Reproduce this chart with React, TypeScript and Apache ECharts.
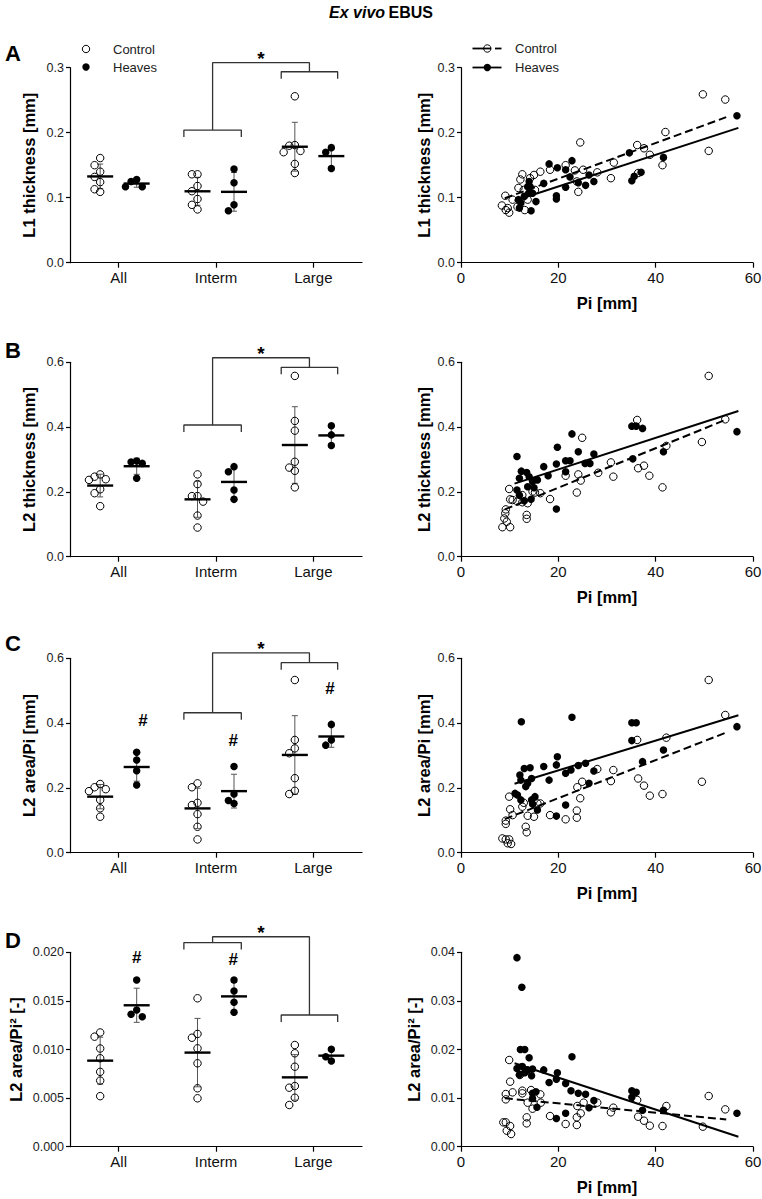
import React, { useEffect, useRef } from "react";
import * as echarts from "echarts";

const FONT = '"Liberation Sans", Arial, Helvetica, sans-serif';

const CATEGORIES = ["All", "Interm", "Large"];

// ---------- Left panels: values per category [All, Interm, Large] ----------
const L1_CONTROL = [
  [0.161, 0.15, 0.14, 0.132, 0.124, 0.113, 0.109],
  [0.136, 0.136, 0.118, 0.11, 0.098, 0.089, 0.082],
  [0.256, 0.181, 0.18, 0.172, 0.17, 0.152, 0.138],
];
const L1_HEAVES = [
  [0.128, 0.125, 0.117, 0.117],
  [0.144, 0.123, 0.089, 0.08],
  [0.177, 0.17, 0.145],
];
const L2_CONTROL = [
  [0.254, 0.247, 0.239, 0.237, 0.208, 0.196, 0.156],
  [0.254, 0.224, 0.187, 0.187, 0.17, 0.127, 0.09],
  [0.558, 0.419, 0.389, 0.293, 0.275, 0.265, 0.214],
];
const L2_HEAVES = [
  [0.295, 0.292, 0.288, 0.242],
  [0.278, 0.262, 0.206, 0.177],
  [0.404, 0.376, 0.343],
];
const L2PI_CONTROL = [
  [0.212, 0.202, 0.196, 0.19, 0.163, 0.137, 0.111],
  [0.214, 0.202, 0.154, 0.147, 0.119, 0.08, 0.041],
  [0.533, 0.348, 0.322, 0.307, 0.23, 0.191, 0.181],
];
const L2PI_HEAVES = [
  [0.31, 0.286, 0.253, 0.209],
  [0.266, 0.181, 0.161, 0.152],
  [0.396, 0.348, 0.332],
];
const L2PI2_CONTROL = [
  [0.01175, 0.01132, 0.0101, 0.0091, 0.0077, 0.0068, 0.0052],
  [0.01527, 0.0116, 0.01121, 0.01012, 0.00858, 0.00601, 0.00498],
  [0.01046, 0.00961, 0.00823, 0.00624, 0.00607, 0.00504, 0.00429],
];
const L2PI2_HEAVES = [
  [0.01715, 0.01406, 0.01362, 0.01337],
  [0.01715, 0.01602, 0.01486, 0.01383],
  [0.01002, 0.00926, 0.00882],
];

// ---------- Right panels: [Pi (mm), value] ----------
const L1_SCATTER_CONTROL = [
  [49.7, 0.259], [54.3, 0.251], [42.0, 0.201], [50.9, 0.172], [24.5, 0.185], [36.2, 0.181],
  [37.6, 0.176], [38.8, 0.166], [41.4, 0.15], [31.4, 0.154], [30.8, 0.13], [28.0, 0.139],
  [25.1, 0.143], [23.4, 0.142], [21.5, 0.15], [23.8, 0.125], [24.1, 0.109], [18.3, 0.143],
  [16.3, 0.14], [15.0, 0.135], [14.2, 0.13], [12.6, 0.136], [12.2, 0.128], [11.8, 0.115],
  [12.9, 0.112], [10.6, 0.097], [9.1, 0.103], [8.4, 0.088], [9.6, 0.084], [9.9, 0.077],
  [9.2, 0.081], [13.1, 0.081], [13.7, 0.097], [36.4, 0.138], [11.6, 0.086], [15.2, 0.112],
];
const L1_SCATTER_HEAVES = [
  [56.7, 0.226], [41.6, 0.162], [34.6, 0.169], [22.8, 0.157], [18.1, 0.152], [19.8, 0.146],
  [21.5, 0.143], [22.4, 0.132], [26.3, 0.135], [27.3, 0.125], [25.6, 0.119], [21.5, 0.116],
  [24.1, 0.123], [19.6, 0.103], [19.6, 0.098], [17.0, 0.122], [35.1, 0.126], [35.6, 0.133],
  [37.0, 0.139], [14.0, 0.125], [14.2, 0.117], [13.9, 0.107], [13.0, 0.102], [11.8, 0.097],
  [12.0, 0.084], [12.3, 0.092], [15.4, 0.094], [14.4, 0.08], [14.7, 0.107], [13.7, 0.117],
];
const L2_SCATTER_CONTROL = [
  [50.9, 0.558], [54.3, 0.424], [36.2, 0.422], [49.5, 0.354], [42.2, 0.342], [24.9, 0.367],
  [37.6, 0.281], [36.4, 0.273], [38.7, 0.25], [41.4, 0.214], [30.8, 0.291], [31.3, 0.247],
  [28.2, 0.259], [24.1, 0.254], [24.6, 0.235], [21.5, 0.25], [23.8, 0.198], [18.3, 0.178],
  [16.3, 0.196], [14.7, 0.201], [13.7, 0.165], [13.5, 0.129], [13.5, 0.117], [12.6, 0.19],
  [12.6, 0.168], [9.9, 0.209], [10.1, 0.177], [10.6, 0.175], [9.2, 0.146], [9.1, 0.134],
  [8.9, 0.118], [9.4, 0.108], [10.1, 0.091], [8.5, 0.091], [11.6, 0.17], [15.2, 0.198],
];
const L2_SCATTER_HEAVES = [
  [56.7, 0.386], [35.1, 0.403], [36.0, 0.403], [37.3, 0.396], [41.6, 0.324], [35.3, 0.302],
  [22.8, 0.379], [19.8, 0.338], [24.1, 0.324], [27.3, 0.317], [22.4, 0.296], [21.5, 0.296],
  [19.6, 0.286], [25.5, 0.288], [26.5, 0.288], [21.5, 0.262], [17.9, 0.25], [17.0, 0.278],
  [11.5, 0.309], [12.4, 0.264], [13.5, 0.26], [12.0, 0.242], [14.0, 0.247], [14.7, 0.232],
  [15.7, 0.237], [15.0, 0.213], [13.7, 0.216], [11.5, 0.206], [12.0, 0.19], [13.0, 0.173],
  [14.4, 0.177], [19.6, 0.147],
];
const L2PI_SCATTER_CONTROL = [
  [50.9, 0.533], [54.3, 0.425], [42.2, 0.355], [36.2, 0.348], [49.5, 0.219], [36.4, 0.229],
  [37.6, 0.207], [38.8, 0.176], [41.4, 0.181], [28.0, 0.258], [31.3, 0.255], [30.8, 0.221],
  [24.9, 0.219], [23.9, 0.202], [24.5, 0.168], [23.8, 0.13], [23.8, 0.108], [21.5, 0.103],
  [18.3, 0.116], [16.3, 0.152], [15.0, 0.111], [13.7, 0.114], [13.3, 0.08], [13.5, 0.063],
  [12.6, 0.142], [12.9, 0.154], [9.9, 0.173], [10.1, 0.134], [10.6, 0.116], [9.2, 0.099],
  [9.2, 0.089], [8.5, 0.044], [9.2, 0.041], [9.9, 0.041], [9.6, 0.029], [10.3, 0.027],
  [15.7, 0.152],
];
const L2PI_SCATTER_HEAVES = [
  [56.7, 0.389], [35.1, 0.401], [36.0, 0.401], [35.1, 0.346], [37.3, 0.281], [41.6, 0.317],
  [22.8, 0.418], [12.4, 0.404], [19.8, 0.296], [19.6, 0.271], [17.0, 0.266], [18.1, 0.224],
  [21.5, 0.245], [22.6, 0.255], [24.1, 0.269], [25.6, 0.276], [26.3, 0.214], [27.3, 0.252],
  [21.5, 0.147], [19.6, 0.113], [12.1, 0.24], [13.0, 0.26], [14.2, 0.262], [12.3, 0.224],
  [13.7, 0.214], [14.5, 0.229], [13.3, 0.204], [11.1, 0.183], [11.6, 0.178], [12.3, 0.163],
  [14.5, 0.163], [15.2, 0.173], [14.7, 0.15], [15.7, 0.132],
];
const L2PI2_SCATTER_CONTROL = [
  [50.9, 0.01043], [54.3, 0.00768], [49.7, 0.00412], [42.2, 0.00837], [41.4, 0.00425],
  [36.2, 0.00961], [36.4, 0.00617], [37.6, 0.00535], [38.8, 0.00432], [31.3, 0.00803],
  [30.8, 0.00707], [28.0, 0.00906], [25.2, 0.00906], [24.6, 0.00686], [23.9, 0.00837],
  [23.8, 0.00604], [23.8, 0.00446], [21.5, 0.00467], [18.3, 0.00631], [16.4, 0.00906],
  [16.3, 0.01077], [14.7, 0.00782], [14.4, 0.01166], [13.7, 0.00906], [13.5, 0.00604],
  [13.5, 0.0048], [12.6, 0.01153], [12.6, 0.01098], [12.1, 0.01475], [12.3, 0.01626],
  [9.9, 0.01784], [10.1, 0.01338], [10.6, 0.01118], [9.2, 0.01084], [9.2, 0.00974],
  [8.7, 0.00501], [9.2, 0.00501], [9.4, 0.00329], [10.1, 0.00425], [10.3, 0.00261],
];
const L2PI2_SCATTER_HEAVES = [
  [11.5, 0.0389], [12.5, 0.0328], [12.2, 0.02], [13.1, 0.02], [14.0, 0.0183], [22.8, 0.0185],
  [11.5, 0.0161], [12.6, 0.0165], [13.7, 0.0158], [14.7, 0.016], [12.0, 0.0148], [13.1, 0.0152],
  [14.5, 0.0146], [17.0, 0.0158], [19.8, 0.0152], [19.6, 0.0139], [18.1, 0.0132], [21.5, 0.013],
  [22.6, 0.0115], [24.1, 0.011], [25.6, 0.0108], [27.3, 0.0095], [26.3, 0.008], [21.5, 0.0069],
  [19.6, 0.0058], [35.1, 0.0115], [36.0, 0.0112], [35.1, 0.0102], [37.3, 0.0075], [41.6, 0.0075],
  [56.7, 0.0069], [14.7, 0.011], [15.4, 0.0113], [14.7, 0.0099], [15.6, 0.0081],
];

// Linear fits: [slope, intercept] per panel
const FIT_CONTROL = [[0.002744, 0.0744], [0.00609, 0.0913], [0.00587, 0.051], [-0.0000958, 0.01083]];
const FIT_HEAVES = [[0.00244, 0.0684], [0.00487, 0.172], [0.0046, 0.162], [-0.000329, 0.0208]];
const FIT_RANGE_CONTROL = [9, 54.5];
const FIT_RANGE_HEAVES = [11, 57];

// Significance annotation levels per panel: [Interm bracket, Large bracket, top connector]
const SIG_LEVELS = [
  [0.204, 0.2938, 0.3077],
  [0.4065, 0.5845, 0.614],
  [0.432, 0.5864, 0.617],
  [0.021, 0.01355, 0.0216],
];
const BRACKET_SPANS = [[1.17, 1.76], [2.17, 2.75]];
const HASH_MARKS = [
  [],
  [],
  [[0.75, 0.41], [1.678, 0.35], [2.671, 0.51]],
  [[0.685, 0.0196], [1.678, 0.0194]],
];

const Y_NAMES = ["L1 thickness [mm]", "L2 thickness [mm]", "L2 area/Pi [mm]", "L2 area/Pi² [-]"];
const LETTERS = ["A", "B", "C", "D"];
const Y_MAX_LEFT = [0.3, 0.6, 0.6, 0.02];
const Y_STEP_LEFT = [0.1, 0.2, 0.2, 0.005];
const Y_DEC_LEFT = [1, 1, 1, 3];
const Y_MAX_RIGHT = [0.3, 0.6, 0.6, 0.04];
const Y_STEP_RIGHT = [0.1, 0.2, 0.2, 0.01];
const Y_DEC_RIGHT = [1, 1, 1, 2];

const LEFT_DATA = [
  [L1_CONTROL, L1_HEAVES],
  [L2_CONTROL, L2_HEAVES],
  [L2PI_CONTROL, L2PI_HEAVES],
  [L2PI2_CONTROL, L2PI2_HEAVES],
];
const RIGHT_DATA = [
  [L1_SCATTER_CONTROL, L1_SCATTER_HEAVES],
  [L2_SCATTER_CONTROL, L2_SCATTER_HEAVES],
  [L2PI_SCATTER_CONTROL, L2PI_SCATTER_HEAVES],
  [L2PI2_SCATTER_CONTROL, L2PI2_SCATTER_HEAVES],
];

// ---------- Layout ----------
const PLOT_LEFT = [70, 461];
const PLOT_W = 292;
const ROW_TOP = [67.7, 362.3, 658.3, 952.3];
const ROW_H = [195, 194.4, 194.4, 194.4];
const NAME_GAP_LEFT = [33, 33, 33, 46];
const NAME_GAP_RIGHT = [29, 29, 29, 39];
const LETTER_Y = [53, 350, 643, 940];
const CONTROL_OFFSET = -0.19;
const HEAVES_OFFSET = 0.185;
const LANE_PX = 5.6;
const SAME_LANE_DY = 7.5;
const SYMBOL = 7.5;

function mean(a: number[]) {
  return a.reduce((s, v) => s + v, 0) / a.length;
}
function sd(a: number[]) {
  const m = mean(a);
  return Math.sqrt(a.reduce((s, v) => s + (v - m) * (v - m), 0) / (a.length - 1));
}

function swarm(values: number[], center: number, yMax: number, hPx: number) {
  const unitPx = PLOT_W / 3;
  const placed: { lane: number; y: number }[] = [];
  const out: number[][] = [];
  const order = values.map((_, i) => i).sort((a, b) => values[b] - values[a]);
  for (const i of order) {
    const py = (values[i] / yMax) * hPx;
    let chosen = 0;
    for (const k of [0, -1, 1, -2, 2, -3, 3]) {
      if (placed.every((p) => p.lane !== k || Math.abs(p.y - py) >= SAME_LANE_DY)) {
        chosen = k;
        break;
      }
    }
    placed.push({ lane: chosen, y: py });
    out.push([center + (chosen * LANE_PX) / unitPx, values[i]]);
  }
  return out;
}

const axisLineStyle = { show: true, lineStyle: { color: "#000", width: 1.2 } };
const axisTickStyle = { show: true, length: 4, lineStyle: { color: "#000", width: 1.2 } };
const nameStyle = { fontFamily: FONT, fontWeight: "bold", fontSize: 16.5, color: "#000" };
const OPEN_STYLE = { color: "rgba(255,255,255,0)", borderColor: "#000", borderWidth: 1, opacity: 1 };
const FILLED_STYLE = { color: "#000", opacity: 1 };

function buildOption() {
  const grid: any[] = [];
  const xAxis: any[] = [];
  const yAxis: any[] = [];
  const series: any[] = [];
  const graphic: any[] = [];

  for (let r = 0; r < 4; r++) {
    const top = ROW_TOP[r];
    const h = ROW_H[r];
    const gL = grid.length;
    grid.push({ left: PLOT_LEFT[0], top, width: PLOT_W, height: h, containLabel: false, outerBoundsMode: "none" });
    const gR = grid.length;
    grid.push({ left: PLOT_LEFT[1], top, width: PLOT_W, height: h, containLabel: false, outerBoundsMode: "none" });

    xAxis.push({
      type: "category",
      gridIndex: gL,
      position: "bottom",
      data: CATEGORIES,
      boundaryGap: true,
      axisLine: axisLineStyle,
      axisTick: { ...axisTickStyle, alignWithLabel: true, length: 5 },
      axisLabel: { fontFamily: FONT, fontSize: 15, color: "#111", margin: 7 },
      splitLine: { show: false },
    });
    const xVal = xAxis.length;
    xAxis.push({ type: "value", gridIndex: gL, min: 0, max: 3, show: false, position: "top" });
    const xR = xAxis.length;
    xAxis.push({
      type: "value",
      gridIndex: gR,
      position: "bottom",
      min: 0,
      max: 60,
      interval: 20,
      name: "Pi [mm]",
      nameLocation: "middle",
      nameGap: 32,
      nameTextStyle: nameStyle,
      axisLine: axisLineStyle,
      axisTick: { ...axisTickStyle, length: 5 },
      axisLabel: { fontFamily: FONT, fontSize: 15, color: "#111", margin: 7 },
      splitLine: { show: false },
    });

    const yL = yAxis.length;
    yAxis.push({
      type: "value",
      gridIndex: gL,
      min: 0,
      max: Y_MAX_LEFT[r],
      interval: Y_STEP_LEFT[r],
      name: Y_NAMES[r],
      nameLocation: "middle",
      nameGap: NAME_GAP_LEFT[r],
      nameTextStyle: nameStyle,
      axisLine: axisLineStyle,
      axisTick: axisTickStyle,
      axisLabel: {
        fontFamily: FONT,
        fontSize: 12.5,
        color: "#222",
        margin: 6,
        formatter: (v: number) => v.toFixed(Y_DEC_LEFT[r]),
      },
      splitLine: { show: false },
    });
    const yR = yAxis.length;
    yAxis.push({
      type: "value",
      gridIndex: gR,
      min: 0,
      max: Y_MAX_RIGHT[r],
      interval: Y_STEP_RIGHT[r],
      name: Y_NAMES[r],
      nameLocation: "middle",
      nameGap: NAME_GAP_RIGHT[r],
      nameTextStyle: nameStyle,
      axisLine: axisLineStyle,
      axisTick: axisTickStyle,
      axisLabel: {
        fontFamily: FONT,
        fontSize: 12.5,
        color: "#222",
        margin: 6,
        formatter: (v: number) => v.toFixed(Y_DEC_RIGHT[r]),
      },
      splitLine: { show: false },
    });

    // ----- left: dot plots -----
    const [ctrl, hv] = LEFT_DATA[r];
    const yMax = Y_MAX_LEFT[r];
    const stats: number[][] = [];
    const ctrlPts: number[][] = [];
    const hvPts: number[][] = [];
    for (let c = 0; c < 3; c++) {
      const cc = c + 0.5 + CONTROL_OFFSET;
      const hc = c + 0.5 + HEAVES_OFFSET;
      stats.push([cc, mean(ctrl[c]), sd(ctrl[c])]);
      stats.push([hc, mean(hv[c]), sd(hv[c])]);
      ctrlPts.push(...swarm(ctrl[c], cc, yMax, h));
      hvPts.push(...swarm(hv[c], hc, yMax, h));
    }
    series.push({
      type: "custom",
      xAxisIndex: xVal,
      yAxisIndex: yL,
      silent: true,
      z: 2,
      data: stats,
      renderItem: (_p: any, api: any) => {
        const x = api.value(0);
        const m = api.value(1);
        const s = api.value(2);
        const c = api.coord([x, m]);
        const t = api.coord([x, m + s]);
        const b = api.coord([x, m - s]);
        const thin = { stroke: "#555", lineWidth: 1 };
        return {
          type: "group",
          children: [
            { type: "line", shape: { x1: c[0], y1: t[1], x2: c[0], y2: b[1] }, style: thin },
            { type: "line", shape: { x1: c[0] - 3, y1: t[1], x2: c[0] + 3, y2: t[1] }, style: thin },
            { type: "line", shape: { x1: c[0] - 3, y1: b[1], x2: c[0] + 3, y2: b[1] }, style: thin },
            { type: "line", shape: { x1: c[0] - 13, y1: c[1], x2: c[0] + 13, y2: c[1] }, style: { stroke: "#000", lineWidth: 2.4 } },
          ],
        };
      },
    });
    series.push({
      type: "scatter",
      name: "Control",
      xAxisIndex: xVal,
      yAxisIndex: yL,
      silent: true,
      z: 3,
      symbol: "circle",
      symbolSize: SYMBOL,
      itemStyle: OPEN_STYLE,
      data: ctrlPts,
    });
    series.push({
      type: "scatter",
      name: "Heaves",
      xAxisIndex: xVal,
      yAxisIndex: yL,
      silent: true,
      z: 3,
      symbol: "circle",
      symbolSize: SYMBOL,
      itemStyle: FILLED_STYLE,
      data: hvPts,
    });

    // significance brackets
    const leg = (yMax * 7) / h;
    const [lo1, lo2, topLvl] = SIG_LEVELS[r];
    const [b1, b2] = BRACKET_SPANS;
    const m1 = (b1[0] + b1[1]) / 2;
    const m2 = (b2[0] + b2[1]) / 2;
    const polylines = [
      [[b1[0], lo1 - leg], [b1[0], lo1], [b1[1], lo1], [b1[1], lo1 - leg]],
      [[b2[0], lo2 - leg], [b2[0], lo2], [b2[1], lo2], [b2[1], lo2 - leg]],
      [[m1, lo1], [m1, topLvl], [m2, topLvl], [m2, lo2]],
    ];
    polylines.forEach((pl) =>
      series.push({
        type: "line",
        xAxisIndex: xVal,
        yAxisIndex: yL,
        data: pl,
        symbol: "none",
        clip: false,
        silent: true,
        z: 2,
        lineStyle: { color: "#333", width: 1.3 },
      })
    );
    series.push({
      type: "custom",
      xAxisIndex: xVal,
      yAxisIndex: yL,
      silent: true,
      z: 4,
      data: [[(m1 + m2) / 2, topLvl]],
      renderItem: (_p: any, api: any) => {
        const c = api.coord([api.value(0), api.value(1)]);
        return {
          type: "text",
          x: c[0],
          y: c[1] - 4,
          style: {
            text: "*",
            font: `bold 19px ${FONT}`,
            fill: "#000",
            align: "center",
            verticalAlign: "middle",
            textAlign: "center",
            textVerticalAlign: "middle",
          },
        };
      },
    });
    if (HASH_MARKS[r].length) {
      series.push({
        type: "custom",
        xAxisIndex: xVal,
        yAxisIndex: yL,
        silent: true,
        z: 4,
        data: HASH_MARKS[r],
        renderItem: (_p: any, api: any) => {
          const c = api.coord([api.value(0), api.value(1)]);
          return {
            type: "text",
            x: c[0],
            y: c[1] + 1,
            style: {
              text: "#",
              font: `bold 17px ${FONT}`,
              fill: "#000",
              align: "center",
              verticalAlign: "middle",
              textAlign: "center",
              textVerticalAlign: "middle",
            },
          };
        },
      });
    }

    // ----- right: scatter with regression lines -----
    const [sc, sh] = RIGHT_DATA[r];
    series.push({
      type: "scatter",
      name: "Control",
      xAxisIndex: xR,
      yAxisIndex: yR,
      silent: true,
      z: 3,
      symbol: "circle",
      symbolSize: SYMBOL,
      itemStyle: OPEN_STYLE,
      data: sc,
    });
    series.push({
      type: "scatter",
      name: "Heaves",
      xAxisIndex: xR,
      yAxisIndex: yR,
      silent: true,
      z: 3,
      symbol: "circle",
      symbolSize: SYMBOL,
      itemStyle: FILLED_STYLE,
      data: sh,
    });
    const [sC, iC] = FIT_CONTROL[r];
    const [sH, iH] = FIT_HEAVES[r];
    series.push({
      type: "line",
      xAxisIndex: xR,
      yAxisIndex: yR,
      silent: true,
      z: 4,
      symbol: "none",
      data: FIT_RANGE_CONTROL.map((x) => [x, iC + sC * x]),
      lineStyle: { color: "#000", width: 2, type: [8, 4] },
    });
    series.push({
      type: "line",
      xAxisIndex: xR,
      yAxisIndex: yR,
      silent: true,
      z: 4,
      symbol: "none",
      data: FIT_RANGE_HEAVES.map((x) => [x, iH + sH * x]),
      lineStyle: { color: "#000", width: 2 },
    });

    graphic.push({
      type: "text",
      x: 13,
      y: LETTER_Y[r],
      silent: true,
      style: {
        text: LETTERS[r],
        font: `bold 22px ${FONT}`,
        fill: "#000",
        align: "center",
        verticalAlign: "middle",
        textAlign: "center",
        textVerticalAlign: "middle",
      },
    });
  }

  // Title
  graphic.push({
    type: "text",
    x: 381,
    y: 12,
    silent: true,
    style: {
      text: "{i|Ex vivo} {b|EBUS}",
      rich: {
        i: { fontFamily: FONT, fontStyle: "italic", fontWeight: "bold", fontSize: 16, fill: "#000", color: "#000" },
        b: { fontFamily: FONT, fontWeight: "bold", fontSize: 16, fill: "#000", color: "#000" },
      },
      fill: "#000",
      align: "center",
      verticalAlign: "middle",
      textAlign: "center",
      textVerticalAlign: "middle",
    },
  });

  // Legends
  const legendText = (x: number, y: number, t: string) => ({
    type: "text",
    x,
    y,
    silent: true,
    style: {
      text: t,
      font: `13px ${FONT}`,
      fill: "#222",
      align: "left",
      verticalAlign: "middle",
      textAlign: "left",
      textVerticalAlign: "middle",
    },
  });
  graphic.push(
    { type: "circle", silent: true, shape: { cx: 86, cy: 49, r: 3.7 }, style: { fill: "#fff", stroke: "#000", lineWidth: 1 } },
    legendText(113, 49, "Control"),
    { type: "circle", silent: true, shape: { cx: 86, cy: 67, r: 3.7 }, style: { fill: "#000" } },
    legendText(113, 67, "Heaves"),
    { type: "line", silent: true, shape: { x1: 472.5, y1: 48.5, x2: 491, y2: 48.5 }, style: { stroke: "#000", lineWidth: 1.8 } },
    { type: "line", silent: true, shape: { x1: 495, y1: 48.5, x2: 501.5, y2: 48.5 }, style: { stroke: "#000", lineWidth: 1.8 } },
    { type: "circle", silent: true, shape: { cx: 487.3, cy: 48.5, r: 3.7 }, style: { fill: "rgba(255,255,255,0)", stroke: "#000", lineWidth: 1 } },
    legendText(515, 48.5, "Control"),
    { type: "line", silent: true, shape: { x1: 472.5, y1: 67.5, x2: 501.5, y2: 67.5 }, style: { stroke: "#000", lineWidth: 1.8 } },
    { type: "circle", silent: true, shape: { cx: 487.3, cy: 67.5, r: 3.7 }, style: { fill: "#000" } },
    legendText(515, 67.5, "Heaves")
  );

  return {
    animation: false,
    backgroundColor: "#fff",
    textStyle: { fontFamily: FONT },
    grid,
    xAxis,
    yAxis,
    series,
    graphic,
  };
}

export default function App() {
  const ref = useRef<HTMLDivElement>(null);
  useEffect(() => {
    if (!ref.current) return;
    const chart = echarts.init(ref.current, undefined, { renderer: "svg" });
    chart.setOption(buildOption() as any);
    return () => chart.dispose();
  }, []);
  return (
    <div
      ref={ref}
      style={{ position: "absolute", left: 0, top: 0, width: 762, height: 1199, background: "#fff" }}
    />
  );
}
